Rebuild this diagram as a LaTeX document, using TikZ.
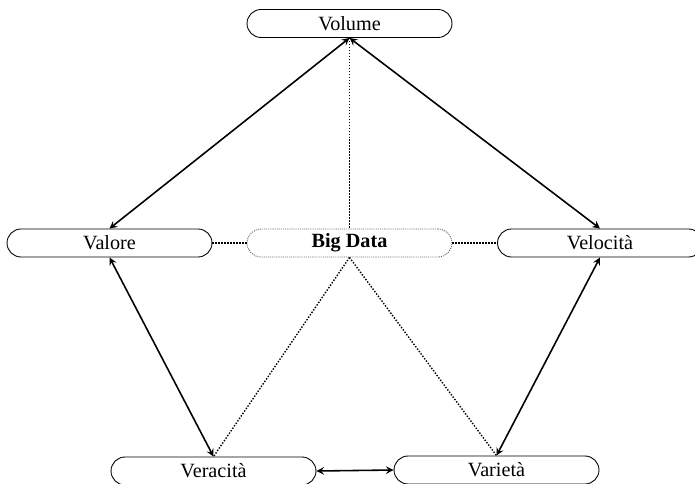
\documentclass[tikz,border=0pt]{standalone}
\usepackage{fontspec}
\setmainfont{Liberation Serif}
\begin{document}
\begin{tikzpicture}[x=0.02cm, y=-0.02cm, >=stealth, font=\fontsize{11.5}{13}\selectfont,
        every node/.style={draw, rounded corners=0.28cm, minimum width=4.1cm, minimum height=0.56cm, inner sep=0pt, line width=0.5pt},
        link/.style={<->, line width=0.9pt},
        dots/.style={dash pattern=on 0.8pt off 0.9pt, line width=0.8pt}]
                \useasboundingbox (0,0) rectangle (695,483);
                % Nodes
                \node at (349.5, 23.5) (vol) {Volume};
                \node at (109.5, 243) (valo) {Valore};
                \node[dash pattern=on 0.6pt off 0.6pt, draw=black!60] at (349.5, 243) (bd) {\textbf{Big Data}};
                \node at (600, 243) (velo) {Velocità};
                \node at (213.5, 471) (vera) {Veracità};
                \node at (496.5, 470) (vari) {Varietà};
        
                % Edges
                \draw[link] (vol.south) -- (valo.north);
                \draw[link] (vol.south) -- (velo.north);
                \draw[link] (valo.south) -- (vera.north);
                \draw[link] (velo.south) -- (vari.north);
                \draw[link] (vera.east) -- (vari.west);
                
                \draw[dots] (vol.south) -- (bd.north);
                \draw[dots] (valo.east) -- (bd.west);
                \draw[dots] (bd.east) -- (velo.west);
                \draw[dots] (bd.south) -- (vera.north);
                \draw[dots] (bd.south) -- (vari.north);
            \end{tikzpicture}
\end{document}
